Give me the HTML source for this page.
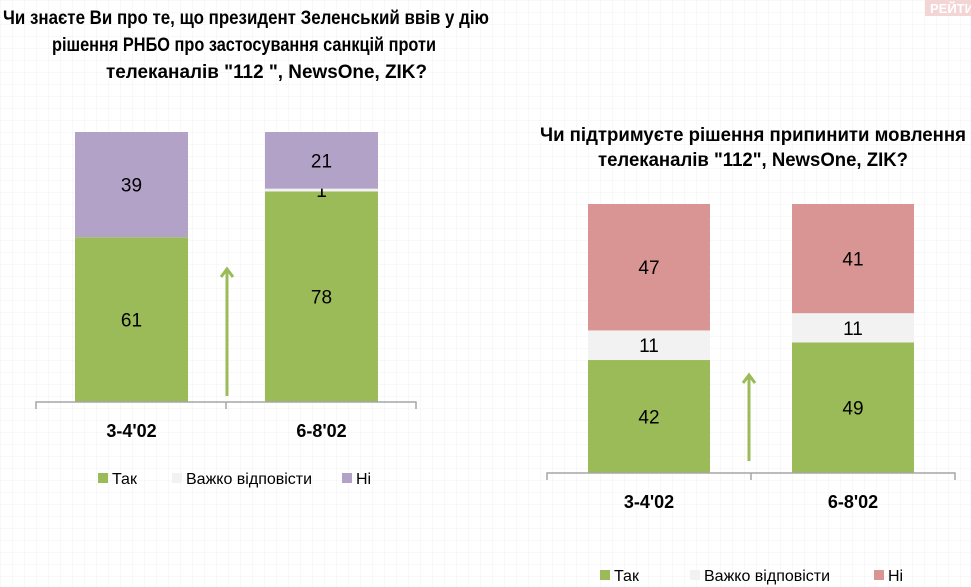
<!DOCTYPE html>
<html><head><meta charset="utf-8"><style>
body{margin:0;background:#fff}
svg{display:block;font-family:"Liberation Sans Narrow","Liberation Sans",sans-serif}
</style></head><body>
<svg id="s" width="971" height="587" viewBox="0 0 971 587">
<defs><pattern id="g" width="12" height="12" patternUnits="userSpaceOnUse"><path d="M12 0H0V12" fill="none" stroke="#f0f0f0" stroke-width="1"/></pattern></defs>
<rect width="971" height="587" fill="#fff"/>
<rect width="971" height="587" fill="url(#g)"/>
<rect x="925" y="0" width="46" height="16" fill="#f3d5d5"/>
<text x="930" y="13" font-size="13" font-weight="bold" fill="#fff" font-family="Liberation Sans,sans-serif">РЕЙТИ</text>
<g font-weight="bold" font-size="19" fill="#000">
<text x="3" y="24" textLength="486" lengthAdjust="spacingAndGlyphs">Чи знаєте Ви про те, що президент Зеленський ввів у дію</text>
<text x="52" y="51" textLength="384" lengthAdjust="spacingAndGlyphs">рішення РНБО про застосування санкцій проти</text>
<text x="106" y="78" textLength="321" lengthAdjust="spacingAndGlyphs">телеканалів "112 ", NewsOne, ZIK?</text>
</g>
<g font-weight="bold" font-size="19" fill="#000">
<text x="540" y="141" textLength="426" lengthAdjust="spacingAndGlyphs">Чи підтримуєте рішення припинити мовлення</text>
<text x="598" y="166" textLength="310" lengthAdjust="spacingAndGlyphs">телеканалів "112", NewsOne, ZIK?</text>
</g>
<g id="c1"></g><g id="c2"></g>
</svg>
<script>
const categories=["3-4'02","6-8'02"];
const seriesNames=["Так","Важко відповісти","Ні"];
const c1Yes=[61,78];
const c1Hard=[0,1];
const c1No=[39,21];
const c2Yes=[42,49];
const c2Hard=[11,11];
const c2No=[47,41];
const colors1=["#9bbb59","#f2f2f2","#b3a2c7"];
const colors2=["#9bbb59","#f2f2f2","#d99594"];
const NS="http://www.w3.org/2000/svg";
function mk(p,t,a){const e=document.createElementNS(NS,t);for(const k in a)e.setAttribute(k,a[k]);p.appendChild(e);return e;}
function chart(g,cfg,series,colors){
  categories.forEach((cat,i)=>{
    const total=series.reduce((s,a)=>s+a[i],0);
    const y=v=>cfg.bottom-v*(cfg.bottom-cfg.top)/total;
    let acc=0;const x=cfg.bars[i];
    series.forEach((s,j)=>{
      const v=s[i];
      const r=mk(g,'rect',{x:x,y:y(acc+v),width:cfg.bw,height:Math.max(0,y(acc)-y(acc+v)),fill:colors[j]});
      
      
      if(v>0){
        const t=mk(g,'text',{x:x+cfg.bw/2,y:(y(acc)+y(acc+v))/2+7,'text-anchor':'middle','font-size':cfg.fs});
        t.textContent=v;
        
        
      }
      acc+=v;
    });
    const c=mk(g,'text',{x:x+cfg.bw/2,y:cfg.catY,'text-anchor':'middle','font-size':18,'font-weight':'bold'});
    c.textContent=cat;
    
    
  });
  const ax=mk(g,'path',{d:`M${cfg.ax[0]} ${cfg.bottom+7}V${cfg.bottom}H${cfg.ax[2]}V${cfg.bottom+7}M${cfg.ax[1]} ${cfg.bottom}V${cfg.bottom+7}`,stroke:'#a6a6a6','stroke-width':1.5,fill:'none'});
  
  
  const ar=mk(g,'path',{d:`M${cfg.arrow[0]} ${cfg.arrow[1]}V${cfg.arrow[2]}M${cfg.arrow[0]-6} ${cfg.arrow[2]+9}L${cfg.arrow[0]} ${cfg.arrow[2]+1}L${cfg.arrow[0]+6} ${cfg.arrow[2]+9}`,stroke:'#9bbb59','stroke-width':3,fill:'none'});
  
  
  seriesNames.forEach((n,j)=>{
    const lx=cfg.leg[j];
    const sw=mk(g,'rect',{x:lx,y:cfg.legY-11,width:10,height:10,fill:colors[j]});
    
    
    const t=mk(g,'text',{x:lx+14,y:cfg.legY,'font-size':16});
    t.textContent=n;
    
    
  });
}
chart(document.getElementById('c1'),{id:'c1',top:132,bottom:402,bars:[75,265],bw:113,fs:19,catY:437,ax:[36,226,416],arrow:[227,396,268],leg:[98,172,342],legY:484},[c1Yes,c1Hard,c1No],colors1);
chart(document.getElementById('c2'),{id:'c2',top:204,bottom:473,bars:[588,792],bw:122,fs:19,catY:508,ax:[547,751,955],arrow:[749,461,374],leg:[600,690,874],legY:581},[c2Yes,c2Hard,c2No],colors2);
</script>
</body></html>
